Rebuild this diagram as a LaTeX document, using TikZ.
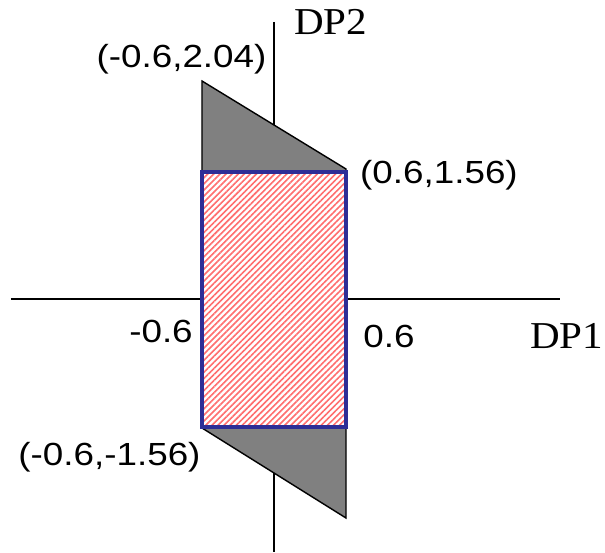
\documentclass[tikz,border=0pt]{standalone}
\usepackage{fontspec}
\newfontfamily\lblfont{Liberation Sans}[FakeStretch=1.15]
\newfontfamily\axfont{Liberation Serif}[FakeStretch=1.08]
\usetikzlibrary{patterns.meta}
\definecolor{shadeGrey}{HTML}{808080}
\definecolor{boxBlue}{HTML}{2E2E96}
\definecolor{hatchRed}{HTML}{FF6E6E}
\tikzset{
  % one unit is one pixel of the 605x552 frame, origin where the axes cross
  axisline/.style = {line width=2pt, black},
  shaded/.style   = {fill=shadeGrey, draw=black, line width=1.4pt},
  hatched/.style  = {fill=white,
                     postaction={pattern={Lines[angle=45, distance=4.3pt, line width=1.6pt]},
                                 pattern color=hatchRed}},
  boxline/.style  = {draw=boxBlue, line width=3.6pt},
  lbl/.style      = {font=\lblfont\fontsize{32}{38}\selectfont, inner sep=0pt, anchor=base},
  axlbl/.style    = {font=\axfont\fontsize{38}{45}\selectfont, inner sep=0pt, anchor=base},
}

\begin{document}
\begin{tikzpicture}[x=1pt,y=1pt]
  \useasboundingbox (-274,-253) rectangle (331,299);
  % axes
  \coordinate (xl) at (-263,0);
  \coordinate (xr) at (286,0);
  \coordinate (yt) at (0,277);
  \coordinate (yb) at (0,-253);
  \draw[axisline] (xl) -- (xr);
  \draw[axisline] (yt) -- (yb);
  % corners of the shaded band and of the box
  \coordinate (tl) at (-72,218);
  \coordinate (tr) at (72,130);
  \coordinate (br) at (72,-219);
  \coordinate (bl) at (-72,-129);
  \draw[shaded] (tl) -- (tr) -- (br) -- (bl) -- cycle;
  \coordinate (boxtl) at (-72,127);
  \coordinate (boxbr) at (72,-128);
  \fill[hatched] (boxtl) rectangle (boxbr);
  \draw[boxline] (boxtl) rectangle (boxbr);
  % labels
  \node[lbl] (ptl) at (-92.5,231) {(-0.6,2.04)};
  \node[lbl] (ptr) at (165,116) {(0.6,1.56)};
  \node[lbl] (pbl) at (-164.5,-166) {(-0.6,-1.56)};
  \node[lbl] (xneg) at (-113,-43) {-0.6};
  \node[lbl] (xpos) at (115,-48) {0.6};
  \node[axlbl] (dp1) at (292.5,-49) {DP1};
  \node[axlbl] (dp2) at (56.5,264) {DP2};
\end{tikzpicture}
\end{document}
